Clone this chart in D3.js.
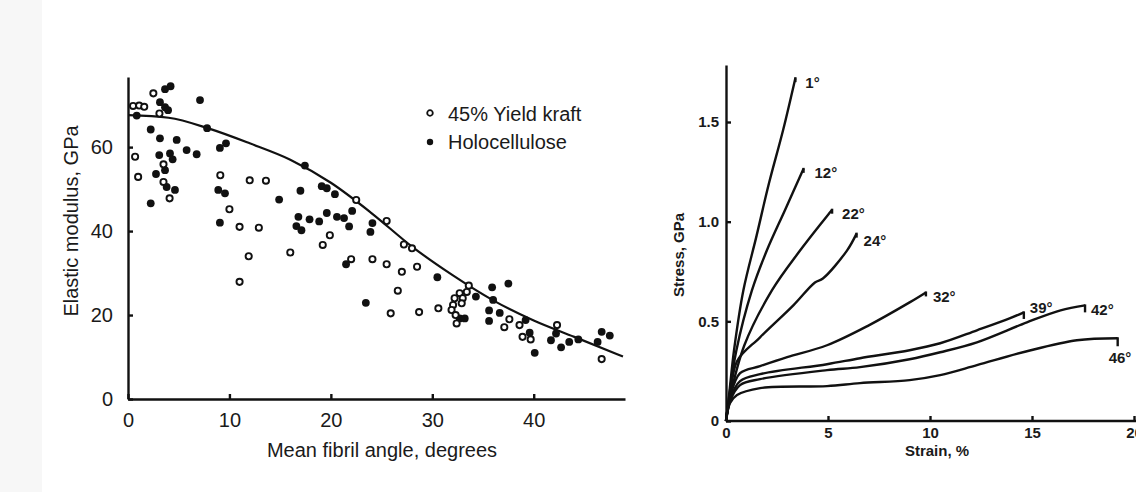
<!doctype html>
<html lang="en">
<head>
<meta charset="utf-8">
<title>Fibril angle and paper stiffness</title>
<style>
  body { margin: 0; background: #fff; }
  svg { display: block; font-family: "Liberation Sans", Arial, sans-serif; }
  .axis path, .axis line { stroke: #111; stroke-width: 2.4; }
  .axis text { fill: #1a1a1a; }
  .left text { font-size: 20px; }
  .right text { font-size: 15px; font-weight: bold; }
</style>
</head>
<body>
<div id="chart"></div>
<script src="https://cdn.jsdelivr.net/npm/d3@7"></script>
<script>
// left panel: elastic modulus against mean fibril angle
var kraftAngle = [2.5, 0.5, 1.1, 1.6, 3.1, 0.7, 3.5, 1.0, 3.5, 4.1, 9.1, 10.0, 11.0, 11.0, 12.0, 13.6, 12.9, 11.9,
  16.0, 19.2, 19.9, 22.5, 22.0, 24.1, 25.5, 27.0, 28.5, 25.5, 27.2, 28.0, 25.9, 26.6, 28.7, 30.6, 33.6,
  32.7, 32.2, 33.0, 33.4, 32.05, 32.9, 31.9, 32.3, 32.4, 37.1, 37.6, 38.6, 38.9, 39.7, 42.3, 46.7];
var kraftModulus = [72.8, 69.8, 69.9, 69.6, 68.0, 57.7, 55.9, 52.9, 51.7, 47.8, 53.3, 45.2, 41.0, 27.9, 52.1, 52.0, 40.8, 34.0,
  34.9, 36.7, 39.0, 47.4, 33.3, 33.3, 32.1, 30.3, 31.5, 42.4, 36.8, 35.9, 20.4, 25.8, 20.7, 21.6, 27.0,
  25.2, 24.0, 24.0, 25.5, 22.4, 22.8, 21.2, 20.0, 18.0, 17.1, 19.0, 17.6, 14.8, 14.2, 17.6, 9.5];
var holoAngle = [3.65, 4.2, 7.1, 3.15, 3.65, 3.95, 0.86, 2.24, 7.8, 3.15, 4.8, 9.06, 9.66, 5.78, 6.77, 3.08, 4.14, 4.4,
  3.65, 2.76, 3.81, 4.63, 8.9, 9.56, 2.24, 9.06, 17.44, 19.1, 19.6, 20.4, 17.0, 14.9, 16.8, 16.6, 17.1,
  17.9, 18.85, 19.6, 20.6, 21.3, 21.8, 22.1, 24.1, 23.9, 21.5, 23.45, 30.5, 32.7, 33.2, 34.3, 35.9, 37.5,
  36.0, 35.6, 36.65, 35.6, 39.2, 40.1, 42.2, 41.7, 42.7, 43.5, 44.4, 46.7, 47.5, 46.3, 39.6];
var holoModulus = [73.8, 74.5, 71.2, 70.7, 69.5, 68.8, 67.5, 64.2, 64.5, 62.1, 61.7, 59.8, 60.9, 59.3, 58.3, 58.1, 58.5, 57.1,
  54.5, 53.6, 50.5, 49.8, 49.8, 49.0, 46.6, 42.0, 55.6, 50.7, 50.2, 48.8, 49.6, 47.5, 43.4, 41.2, 40.2,
  42.8, 42.3, 44.3, 43.4, 43.1, 41.1, 44.8, 41.9, 39.8, 32.1, 22.9, 29.0, 19.2, 19.2, 24.4, 26.6, 27.5,
  23.6, 21.1, 20.5, 18.6, 18.8, 11.0, 15.6, 14.0, 12.3, 13.6, 14.2, 16.0, 15.1, 13.6, 15.8];
var fitAngle = [0, 4, 8, 12, 16, 20, 24, 28, 32, 36, 40, 44, 48.8];
var fitModulus = [67.6, 67.0, 64.4, 60.9, 57.0, 51.5, 44.3, 36.3, 29.5, 23.5, 18.7, 14.8, 10.1];
var legendNames = ["45% Yield kraft", "Holocellulose"];
var angleTicks = [0, 10, 20, 30, 40];
var modulusTicks = [0, 20, 40, 60];

// right panel: stress-strain curves, one per fibril angle
var curveNames = ["1°", "12°", "22°", "24°", "32°", "39°", "42°", "46°"];
var curveStrain = [
  [0, 0.15, 0.4, 0.85, 1.5, 2.1, 2.8, 3.4],
  [0, 0.15, 0.5, 1.27, 2.0, 2.9, 3.8],
  [0, 0.2, 0.9, 2.25, 3.63, 5.2],
  [0, 0.2, 0.54, 1.67, 3.3, 4.36, 4.75, 5.93, 6.4],
  [0, 0.2, 0.69, 1.67, 3.0, 4.95, 7.0, 9.0, 9.8],
  [0, 0.2, 0.69, 1.67, 4.95, 6.57, 9.0, 10.5, 12.3, 13.9, 14.6],
  [0, 0.2, 0.69, 1.67, 4.95, 6.57, 9.0, 10.5, 12.3, 14.75, 16.4, 17.6],
  [0, 0.2, 0.54, 1.67, 4.95, 6.57, 9.0, 10.5, 12.3, 14.75, 17.2, 19.2]
];
var curveStress = [
  [0, 0.13, 0.36, 0.655, 0.93, 1.19, 1.46, 1.72],
  [0, 0.12, 0.35, 0.655, 0.855, 1.06, 1.265],
  [0, 0.12, 0.38, 0.655, 0.855, 1.06],
  [0, 0.12, 0.3, 0.42, 0.58, 0.695, 0.715, 0.855, 0.94],
  [0, 0.12, 0.24, 0.275, 0.32, 0.38, 0.48, 0.595, 0.645],
  [0, 0.11, 0.2, 0.235, 0.285, 0.315, 0.355, 0.39, 0.455, 0.515, 0.545],
  [0, 0.1, 0.18, 0.21, 0.255, 0.27, 0.31, 0.345, 0.395, 0.495, 0.555, 0.58],
  [0, 0.09, 0.13, 0.165, 0.175, 0.19, 0.205, 0.23, 0.28, 0.35, 0.405, 0.415]
];
// stress after the break at the end of each curve
var breakStress = [1.70, 1.245, 1.04, 0.92, 0.625, 0.512, 0.545, 0.375];
var strainTicks = [0, 5, 10, 15, 20];
var stressTicks = [0, 0.5, 1.0, 1.5];

var width = 1136, height = 492;
var labelShift = [[10, 10], [11, 9], [10, 9], [7, 12], [7, 10], [6, 1], [6, 10], [-9, 25]];

var svg = d3.select("#chart").append("svg")
  .attr("width", width).attr("height", height);

svg.append("rect").attr("x", 0).attr("y", 0).attr("width", 42).attr("height", height)
  .attr("fill", "#f7f7f7");

// ---------- left panel ----------
var xL = d3.scaleLinear().domain([0, 49]).range([128, 625]);
var yL = d3.scaleLinear().domain([0, 76.7]).range([399, 77]);
var left = svg.append("g").attr("class", "left");

left.append("g").attr("class", "axis")
  .attr("transform", "translate(0," + yL(0) + ")")
  .call(d3.axisBottom(xL).tickValues(angleTicks).tickSize(-5).tickSizeOuter(0).tickPadding(14))
  .call(function(g) { g.selectAll("text").attr("font-size", 20).attr("font-family", null); });

left.append("g").attr("class", "axis")
  .attr("transform", "translate(" + xL(0) + ",0)")
  .call(d3.axisLeft(yL).tickValues(modulusTicks).tickSize(-5).tickSizeOuter(0).tickPadding(15))
  .call(function(g) { g.selectAll("text").attr("font-size", 20).attr("font-family", null); });

left.append("text")
  .attr("transform", "translate(78,221) rotate(-90)")
  .attr("text-anchor", "middle").attr("fill", "#1a1a1a")
  .text("Elastic modulus, GPa");
left.append("text")
  .attr("x", 382).attr("y", 457)
  .attr("text-anchor", "middle").attr("fill", "#1a1a1a")
  .text("Mean fibril angle, degrees");

var fit = d3.line()
  .x(function(d, i) { return xL(fitAngle[i]); })
  .y(function(d) { return yL(d); })
  .curve(d3.curveMonotoneX);
left.append("path")
  .attr("d", fit(fitModulus))
  .attr("fill", "none").attr("stroke", "#111").attr("stroke-width", 2.2);

left.selectAll(".holo").data(holoModulus).enter().append("circle")
  .attr("class", "holo")
  .attr("cx", function(d, i) { return xL(holoAngle[i]); })
  .attr("cy", function(d) { return yL(d); })
  .attr("r", 3.9).attr("fill", "#111");

left.selectAll(".kraft").data(kraftModulus).enter().append("circle")
  .attr("class", "kraft")
  .attr("cx", function(d, i) { return xL(kraftAngle[i]); })
  .attr("cy", function(d) { return yL(d); })
  .attr("r", 3.1).attr("fill", "#fff").attr("stroke", "#111").attr("stroke-width", 1.9);

var legend = left.append("g").attr("transform", "translate(430,113)");
legend.append("circle").attr("cx", 0).attr("cy", 0).attr("r", 2.8)
  .attr("fill", "#fff").attr("stroke", "#111").attr("stroke-width", 1.8);
legend.append("circle").attr("cx", 0).attr("cy", 29).attr("r", 3.2).attr("fill", "#111");
legend.selectAll("text").data(legendNames).enter().append("text")
  .attr("x", 18).attr("y", function(d, i) { return 8 + i * 28; })
  .attr("fill", "#1a1a1a")
  .text(function(d) { return d; });

// ---------- right panel ----------
var xR = d3.scaleLinear().domain([0, 20]).range([726, 1134]);
var yR = d3.scaleLinear().domain([0, 1.786]).range([421, 65]);
var right = svg.append("g").attr("class", "right");

right.append("g").attr("class", "axis")
  .attr("transform", "translate(0," + yR(0) + ")")
  .call(d3.axisBottom(xR).tickValues(strainTicks).tickSize(-5).tickSizeOuter(0).tickPadding(6))
  .call(function(g) {
    g.selectAll("text").attr("font-size", 15).attr("font-family", null);
    g.select(".domain").attr("d", "M" + xR(0) + ",0H" + (width + 5));
  });

right.append("g").attr("class", "axis")
  .attr("transform", "translate(" + xR(0) + ",0)")
  .call(d3.axisLeft(yR).tickValues(stressTicks).tickSize(-5).tickSizeOuter(0).tickPadding(7)
    .tickFormat(function(d) { return d === 0 ? "0" : d3.format(".1f")(d); }))
  .call(function(g) { g.selectAll("text").attr("font-size", 15).attr("font-family", null); });

right.append("text")
  .attr("transform", "translate(684,255) rotate(-90)")
  .attr("text-anchor", "middle").attr("fill", "#1a1a1a")
  .text("Stress, GPa");
right.append("text")
  .attr("x", 937).attr("y", 456)
  .attr("text-anchor", "middle").attr("fill", "#1a1a1a")
  .text("Strain, %");

var ss = d3.line()
  .x(function(d) { return xR(d[0]); })
  .y(function(d) { return yR(d[1]); })
  .curve(d3.curveCatmullRom.alpha(0.5));

curveNames.forEach(function(name, k) {
  var pts = curveStrain[k].map(function(s, i) { return [s, curveStress[k][i]]; });
  var last = pts[pts.length - 1];
  right.append("path")
    .attr("d", ss(pts))
    .attr("fill", "none").attr("stroke", "#111").attr("stroke-width", 2.4)
    .attr("stroke-linejoin", "round");
  right.append("line")
    .attr("x1", xR(last[0])).attr("y1", yR(last[1]) - 1)
    .attr("x2", xR(last[0])).attr("y2", yR(breakStress[k]))
    .attr("stroke", "#111").attr("stroke-width", 2.4);
  right.append("text")
    .attr("x", xR(last[0]) + labelShift[k][0])
    .attr("y", yR(last[1]) + labelShift[k][1])
    .attr("font-size", 14).attr("fill", "#1a1a1a")
    .text(name);
});
</script>
</body>
</html>
